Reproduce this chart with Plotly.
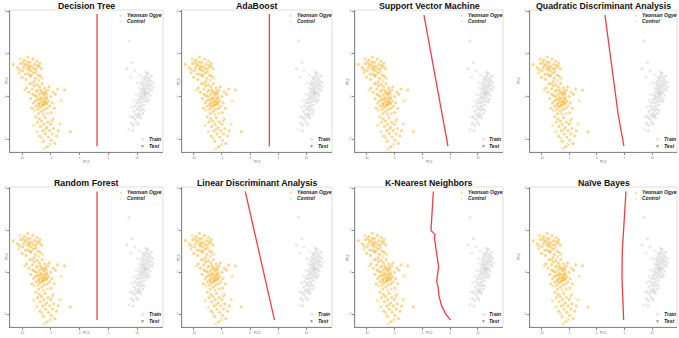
import plotly.graph_objects as go

W, H = 679, 338

titles = ["Decision Tree", "AdaBoost", "Support Vector Machine", "Quadratic Discriminant Analysis",
          "Random Forest", "Linear Discriminant Analysis", "K-Nearest Neighbors", "Naïve Bayes"]

# --- Yeonsan Ogye (PC1, PC2) ---
ogye_train_x = [-10.8, -10.2, -9.9, -9.6, -9.4, -9.2, -9.0, -8.8, -8.6, -8.5, -8.3, -8.1, -8.0, -7.8, -7.7, -7.5,
                -7.4, -7.2, -7.0, -6.9, -10.0, -9.7, -9.3, -8.9, -8.4, -7.9, -7.6, -7.3, -6.8, -6.6, -11.5,
                -8.8, -8.5, -8.2, -8.0, -7.8, -7.6, -7.5, -7.3, -7.2, -7.0, -6.9, -6.8, -6.7, -6.6, -6.5, -6.4,
                -6.3, -6.2, -6.1, -6.0, -5.9, -5.8, -5.7, -5.6, -5.5, -5.4, -5.2, -5.0, -4.8, -4.6, -4.4, -7.9,
                -7.4, -6.95, -6.5, -8.6, -9.2, -8.3, -7.1, -5.3, -4.9, -6.75, -7.65, -6.05, -4.2, -3.8, -2.6,
                -7.6, -7.3, -7.0, -6.8, -6.6, -6.4, -6.2, -6.0, -5.9, -5.7, -5.5, -5.4, -5.2, -5.0, -4.9, -4.7,
                -4.5, -4.3, -4.0, -3.7, -6.9, -6.3, -5.6, -1.6,
                -7.15, -6.85, -6.45, -6.35, -5.85, -5.65, -7.45, -8.15, -6.55, -5.95, -7.05, -6.15,
                -9.55, -8.75, -10.45, -7.95, -9.05, -8.45]
ogye_train_y = [1.35, 1.55, 1.2, 1.7, 1.05, 1.45, 1.85, 1.25, 1.6, 0.95, 1.4, 1.75, 1.1, 1.5, 0.85, 1.3,
                1.65, 1.0, 1.4, 1.55, 0.9, 1.35, 0.8, 1.05, 1.2, 0.7, 1.15, 1.45, 0.95, 1.3, 1.5,
                0.2, -0.1, 0.35, -0.3, 0.05, -0.45, 0.25, -0.15, -0.6, 0.1, -0.3, -0.05, -0.5, 0.2, -0.25, -0.1,
                -0.4, 0.05, -0.6, -0.2, 0.15, -0.35, -0.05, -0.55, 0.3, -0.2, -0.45, 0.0, -0.3, 0.2, -0.55, 0.5,
                0.55, 0.45, 0.6, 0.6, 0.4, -0.55, -0.8, 0.45, -0.75, 0.3, -0.2, 0.4, 0.1, 0.35, 0.3,
                -0.95, -1.2, -1.05, -1.4, -1.15, -1.6, -1.3, -1.0, -1.75, -1.45, -1.2, -1.9, -1.6, -1.3, -2.05, -1.75,
                -1.5, -2.2, -1.85, -1.6, -1.85, -2.1, -2.35, -1.65,
                -0.35, -0.15, -0.4, 0.15, -0.1, -0.3, 0.0, 0.1, -0.7, 0.25, -0.45, -0.25,
                1.5, 1.35, 1.25, 1.3, 1.6, 1.0]
ogye_test_x = [-10.5, -9.1, -8.2, -7.1, -6.25, -5.55, -3.2, -7.4, -5.1, -4.6, -3.4, -8.0, -6.1, -9.5, -6.45,
               -10.3, -8.7, -7.25, -6.15, -5.75, -4.75, -6.55, -7.85, -9.8, -5.95]
ogye_test_y = [1.1, 1.3, 0.6, 0.75, -0.85, -0.8, -0.2, -1.65, -2.25, -1.05, -1.3, -1.35, -2.45, 0.3, 0.85,
               1.75, 1.45, 0.3, -0.35, 0.1, -1.15, -1.95, -0.65, 1.6, -1.55]

# --- Control (PC1, PC2) ---
ctrl_train_x = [9.0, 9.2, 9.4, 9.5, 9.6, 9.7, 9.8, 9.9, 10.0, 10.0, 10.1, 10.2, 10.3, 10.3, 10.4, 10.5, 10.5,
                10.6, 10.6, 10.7, 10.8, 10.8, 10.9, 10.9, 11.0, 11.0, 11.1, 11.1, 11.2, 11.2, 11.3, 11.3, 11.4,
                11.4, 11.5, 11.5, 11.6, 11.6, 11.7, 11.7, 11.8, 11.8, 11.9, 12.0, 12.0, 12.1, 12.2, 12.3, 12.4,
                12.5, 12.6, 12.7, 10.2, 9.3, 10.6, 11.0, 12.2, 8.6, 8.2, 9.2,
                11.15, 11.45, 11.75, 10.75, 12.05, 11.35, 10.45]
ctrl_train_y = [-1.25, -0.95, -1.35, -0.7, -1.05, -0.45, -0.85, -1.2, -0.3, -0.6, -0.95, -0.15, -0.5, -0.8, 0.05,
                -0.3, -0.65, 0.2, -0.1, -0.45, 0.35, 0.0, -0.25, -0.6, 0.15, 0.5, -0.1, 0.3, -0.4, 0.65, 0.05,
                0.4, -0.2, 0.8, 0.25, 0.55, -0.05, 0.95, 0.4, 0.15, 0.7, -0.25, 0.5, 0.2, 0.85, 0.6, 0.35, 0.75,
                0.5, 0.95, 0.3, 0.65, -1.3, -1.6, -1.0, -0.8, 0.05, 2.6, 1.3, 1.6,
                0.9, 0.1, 1.1, 0.6, -0.15, 0.2, -0.9]
ctrl_test_x = [11.5, 10.9, 10.4, 9.8, 10.1, 9.5, 12.9, 11.9, 9.1, 8.8, 8.6, 10.5, 11.3, 8.9, 9.6]
ctrl_test_y = [1.15, 0.75, 0.4, 0.1, 0.65, -0.2, 0.45, 1.05, -0.5, -0.95, -1.55, 1.0, -0.65, 0.9, 1.2]

# --- Decision boundaries (PC1, PC2) per classifier ---
boundary_x = [
    [3.05, 3.05],
    [3.4, 3.4],
    [0.31, 4.62],
    [1.48, 2.3, 3.1, 3.9, 4.91],
    [3.05, 3.05],
    [-0.87, 4.32],
    [2.0, 1.87, 1.69, 1.57, 2.0, 2.3, 2.18, 2.41, 2.71, 2.95, 2.77, 2.6, 2.84, 3.02, 3.5, 4.27, 5.1],
    [5.28, 4.98, 4.62, 4.56, 4.69, 4.86],
]
boundary_y = [
    [3.86, -2.33],
    [3.86, -2.33],
    [3.81, -2.33],
    [3.81, 2.2, 0.6, -0.9, -2.33],
    [3.84, -2.27],
    [3.84, -2.27],
    [3.84, 3.19, 2.57, 1.98, 1.87, 1.8, 1.64, 1.18, 0.71, 0.25, -0.06, -0.45, -0.68, -1.15, -1.61, -2.0, -2.27],
    [3.84, 2.57, 1.02, -0.22, -1.3, -2.27],
]

x_ticks = [-10, -5, 0, 5, 10]
y_ticks = [-2, 0, 2, 4]

ORANGE = "rgba(243,168,10,0.45)"
GREY = "rgba(200,200,200,0.45)"
RED = "rgba(232,30,40,0.85)"

cols = [(10, 163), (182, 332), (355, 503), (530, 677)]
rows = [(10, 152), (187, 327)]

fig = go.Figure()
annotations = []
shapes = []
layout = {}

for k in range(8):
    r, c = divmod(k, 4)
    n = "" if k == 0 else str(k + 1)
    xa, ya = "x" + n, "y" + n
    x0, x1 = cols[c]
    y0, y1 = rows[r]
    layout["xaxis" + n] = dict(domain=[x0 / W, x1 / W], range=[-12.09, 14.52], anchor=ya,
                               tickvals=x_ticks, ticktext=[str(v) for v in x_ticks],
                               tickfont=dict(size=3, color="#777"), showgrid=False, zeroline=False,
                               showline=True, linecolor="#888", linewidth=1, ticks="outside",
                               ticklen=2, tickcolor="#888")
    layout["yaxis" + n] = dict(domain=[1 - y1 / H, 1 - y0 / H], range=[-2.6, 4.05], anchor=xa,
                               tickvals=y_ticks, ticktext=[str(v) for v in y_ticks],
                               tickfont=dict(size=3, color="#777"), showgrid=False, zeroline=False,
                               showline=True, linecolor="#888", linewidth=1, ticks="outside",
                               ticklen=2, tickcolor="#888")
    shapes.append(dict(type="rect", xref=xa + " domain", yref=ya + " domain", x0=0, x1=1, y0=0, y1=1,
                       line=dict(color="#dedede", width=1), layer="below"))

    fig.add_trace(go.Scatter(x=ogye_train_x, y=ogye_train_y, mode="markers", xaxis=xa, yaxis=ya,
                             marker=dict(size=3.2, color=ORANGE, symbol="circle"), showlegend=False))
    fig.add_trace(go.Scatter(x=ogye_test_x, y=ogye_test_y, mode="markers", xaxis=xa, yaxis=ya,
                             marker=dict(size=3.2, color=ORANGE, symbol="x-thin",
                                         line=dict(color=ORANGE, width=1)), showlegend=False))
    fig.add_trace(go.Scatter(x=ctrl_train_x, y=ctrl_train_y, mode="markers", xaxis=xa, yaxis=ya,
                             marker=dict(size=3.2, color=GREY, symbol="circle"), showlegend=False))
    fig.add_trace(go.Scatter(x=ctrl_test_x, y=ctrl_test_y, mode="markers", xaxis=xa, yaxis=ya,
                             marker=dict(size=3.2, color=GREY, symbol="x-thin",
                                         line=dict(color=GREY, width=1)), showlegend=False))
    fig.add_trace(go.Scatter(x=boundary_x[k], y=boundary_y[k], mode="lines", xaxis=xa, yaxis=ya,
                             line=dict(color=RED, width=1.3), showlegend=False))

    # title
    annotations.append(dict(text="<b>" + titles[k] + "</b>", xref="paper", yref="paper",
                            x=(x0 + x1) / 2 / W, y=1 - (y0 - 4.5) / H, xanchor="center", yanchor="middle",
                            showarrow=False, font=dict(size=8.8, color="#111", family="Liberation Sans")))
    # axis titles
    annotations.append(dict(text="PC1", xref=xa + " domain", yref="paper", x=0.5, y=1 - (y1 + 10) / H,
                            showarrow=False, font=dict(size=3.5, color="#666")))
    annotations.append(dict(text="PC2", xref="paper", yref=ya + " domain", x=(x0 - 7) / W, y=0.5,
                            textangle=-90, showarrow=False, font=dict(size=3.5, color="#666")))
    # legends
    leg = [(0.72, 0.965, "●", ORANGE, "Yeonsan Ogye"), (0.72, 0.925, "●", GREY, "Control"),
           (0.865, 0.09, "○", "#444", "Train"), (0.865, 0.045, "×", "#444", "Test")]
    for lx, ly, sym, col, txt in leg:
        annotations.append(dict(text=sym, xref=xa + " domain", yref=ya + " domain", x=lx, y=ly,
                                xanchor="center", yanchor="middle", showarrow=False,
                                font=dict(size=5, color=col)))
        annotations.append(dict(text="<b><i>" + txt + "</i></b>", xref=xa + " domain", yref=ya + " domain",
                                x=lx + 0.03, y=ly, xanchor="left", yanchor="middle", showarrow=False,
                                font=dict(size=5, color="#222", family="Liberation Sans")))

fig.update_layout(width=W, height=H, margin=dict(l=0, r=0, t=0, b=0), plot_bgcolor="white",
                  paper_bgcolor="white", annotations=annotations, shapes=shapes,
                  font=dict(family="Liberation Sans"), **layout)

fig.write_html("out.html", post_script="document.body.style.margin='0';",
               config={"displayModeBar": False})
